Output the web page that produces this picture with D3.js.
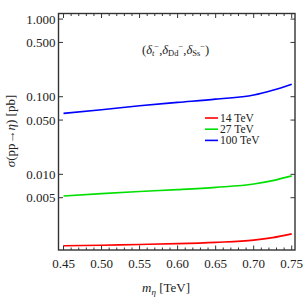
<!DOCTYPE html>
<html><head><meta charset="utf-8">
<script src="https://cdn.jsdelivr.net/npm/d3@7"></script>
<style>body{margin:0;background:#fff}svg{display:block}text{font-family:"Liberation Serif","DejaVu Serif",serif}</style>
</head><body><svg id="c" width="305" height="305"></svg>
<script>
const masses = [0.45, 0.50, 0.55, 0.60, 0.65, 0.70, 0.725, 0.75];
const sigma14 = [0.00120, 0.00122, 0.00125, 0.00128, 0.00133, 0.00142, 0.00153, 0.00171];
const sigma27 = [0.00527, 0.00565, 0.00600, 0.00635, 0.00680, 0.00750, 0.00830, 0.00955];
const sigma100 = [0.061, 0.068, 0.0765, 0.0845, 0.093, 0.105, 0.121, 0.145];
const seriesNames = ["14 TeV", "27 TeV", "100 TeV"];
const seriesColors = ["#ff0000", "#00e000", "#0000ff"];
const xTicks = [0.45, 0.50, 0.55, 0.60, 0.65, 0.70, 0.75];
const yTicks = [0.005, 0.010, 0.050, 0.100, 0.500, 1.000];

const svg = d3.select("#c");
const L = 58.5, T = 13.5, R = 295, B = 250;
const x = d3.scaleLinear().domain([0.4434, 0.7543]).range([L, R]);
const y = d3.scaleLog().domain([0.00106, 1.18]).range([B, T]);

const series = [sigma14, sigma27, sigma100];
const line = d3.line().x(d => x(d[0])).y(d => y(d[1])).curve(d3.curveMonotoneX);
series.forEach((s, i) => {
  svg.append("path").datum(masses.map((m, j) => [m, s[j]]))
    .attr("d", line).attr("fill", "none").attr("stroke", seriesColors[i]).attr("stroke-width", 1.6);
});

// frame
const ax = "#333";
svg.append("rect").attr("x", L).attr("y", T).attr("width", R - L).attr("height", B - T)
  .attr("fill", "none").attr("stroke", ax).attr("stroke-width", 1.4);

// x ticks
const minorX = d3.range(0.45, 0.7501, 0.01);
const gx = svg.append("g");
minorX.forEach(v => {
  const isMaj = xTicks.some(t => Math.abs(t - v) < 1e-6);
  const len = isMaj ? 4.5 : 2.5;
  gx.append("line").attr("x1", x(v)).attr("x2", x(v)).attr("y1", B).attr("y2", B - len).attr("stroke", ax).attr("stroke-width", 1);
  gx.append("line").attr("x1", x(v)).attr("x2", x(v)).attr("y1", T).attr("y2", T + len).attr("stroke", ax).attr("stroke-width", 1);
});
xTicks.forEach(v => {
  svg.append("text").attr("x", x(v)).attr("y", 268).attr("text-anchor", "middle")
    .attr("font-size", 13).attr("fill", "#222").text(d3.format(".2f")(v));
});
// y ticks
yTicks.forEach(v => {
  svg.append("line").attr("x1", L).attr("x2", L + 4.5).attr("y1", y(v)).attr("y2", y(v)).attr("stroke", ax).attr("stroke-width", 1);
  svg.append("line").attr("x1", R).attr("x2", R - 4.5).attr("y1", y(v)).attr("y2", y(v)).attr("stroke", ax).attr("stroke-width", 1);
  svg.append("text").attr("x", 55.5).attr("y", y(v) + 4.5).attr("text-anchor", "end")
    .attr("font-size", 13).attr("fill", "#222").text(d3.format(".3f")(v));
});

// axis labels
const xl = svg.append("text").attr("x", 166).attr("y", 292).attr("text-anchor", "middle").attr("font-size", 13).attr("fill", "#222");
xl.append("tspan").attr("font-style", "italic").text("m");
xl.append("tspan").attr("font-style", "italic").attr("font-size", 9).attr("dy", 3).text("η");
xl.append("tspan").attr("dy", -3).text(" [TeV]");

const yl = svg.append("text").attr("transform", "translate(15,131) rotate(-90)").attr("text-anchor", "middle").attr("font-size", 13).attr("fill", "#222");
yl.append("tspan").attr("font-style", "italic").text("σ");
yl.append("tspan").text("(pp→");
yl.append("tspan").attr("font-style", "italic").text("η");
yl.append("tspan").text(") [pb]");

// annotation
const an = svg.append("text").attr("x", 142).attr("y", 54).attr("font-size", 12.5).attr("fill", "#222");
an.append("tspan").text("(");
an.append("tspan").attr("font-style", "italic").text("δ");
an.append("tspan").attr("font-style", "italic").attr("font-size", 8.5).attr("dy", 2).text("t");
an.append("tspan").attr("font-size", 8.5).attr("dy", -7).text("−");
an.append("tspan").attr("dy", 5).text(",");
an.append("tspan").attr("font-style", "italic").text("δ");
an.append("tspan").attr("font-size", 8.5).attr("dy", 2).text("Dd");
an.append("tspan").attr("font-size", 8.5).attr("dy", -7).text("−");
an.append("tspan").attr("dy", 5).text(",");
an.append("tspan").attr("font-style", "italic").text("δ");
an.append("tspan").attr("font-size", 8.5).attr("dy", 2).text("Ss");
an.append("tspan").attr("font-size", 8.5).attr("dy", -7).text("−");
an.append("tspan").attr("dy", 5).text(")");

// legend
seriesNames.forEach((n, i) => {
  const yy = 118 + i * 11.2;
  svg.append("line").attr("x1", 205).attr("x2", 218).attr("y1", yy).attr("y2", yy).attr("stroke", seriesColors[i]).attr("stroke-width", 1.6);
  svg.append("text").attr("x", 220).attr("y", yy + 3.8).attr("font-size", 11.5).attr("fill", "#222").text(n);
});
</script></body></html>
